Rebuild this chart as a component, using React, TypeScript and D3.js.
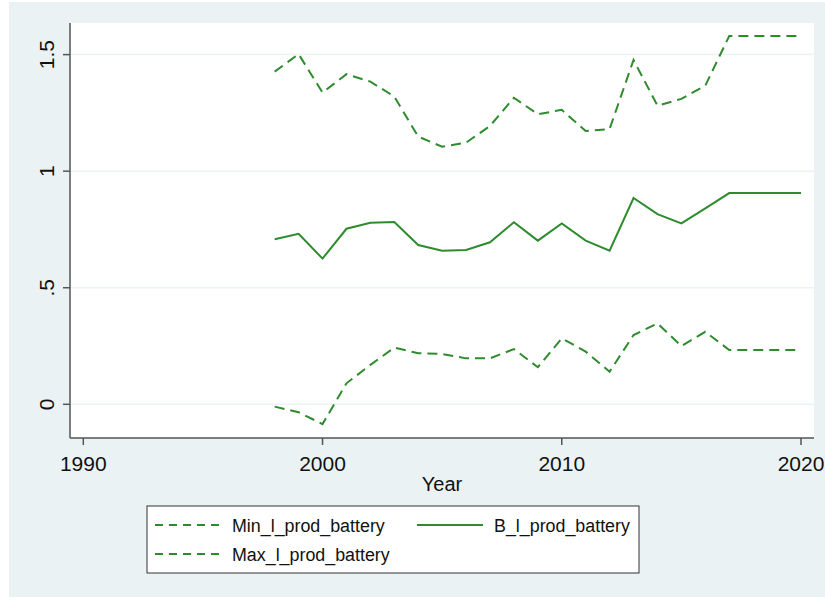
import React, { useRef, useEffect } from "react";
import * as d3 from "d3";

// Years and series
const years = [
  1998, 1999, 2000, 2001, 2002, 2003, 2004, 2005, 2006, 2007, 2008,
  2009, 2010, 2011, 2012, 2013, 2014, 2015, 2016, 2017, 2018, 2019, 2020,
];
const maxVals = [
  1.427, 1.502, 1.337, 1.416, 1.384, 1.32, 1.148, 1.105, 1.122, 1.194, 1.315,
  1.244, 1.263, 1.172, 1.181, 1.477, 1.281, 1.31, 1.367, 1.58, 1.58, 1.58, 1.58,
];
const bVals = [
  0.708, 0.731, 0.625, 0.753, 0.779, 0.782, 0.683, 0.659, 0.662, 0.695, 0.781,
  0.702, 0.776, 0.702, 0.659, 0.885, 0.816, 0.776, 0.84, 0.906, 0.906, 0.906, 0.906,
];
const minVals = [
  -0.01, -0.034, -0.085, 0.09, 0.169, 0.243, 0.219, 0.216, 0.197, 0.197, 0.237,
  0.159, 0.283, 0.226, 0.14, 0.297, 0.347, 0.25, 0.311, 0.233, 0.233, 0.233, 0.233,
];
const xTicks = [1990, 2000, 2010, 2020];
const yTicks = [0, 0.5, 1, 1.5];
const yTickLabels = ["0", ".5", "1", "1.5"];

const W = 825;
const H = 597;
const GREEN = "#2e8b2e";
const FONT = "'Liberation Sans', Arial, sans-serif";

export default function App() {
  const svgRef = useRef<SVGSVGElement>(null);

  useEffect(() => {
    const svg = d3.select(svgRef.current);
    svg.selectAll("*").remove();

    const plot = { left: 70, right: 814, top: 23, bottom: 438 };

    const x = d3.scaleLinear().domain([1990, 2020]).range([83.3, 801]);
    const y = d3.scaleLinear().domain([0, 1.5]).range([404.3, 54.6]);

    // outer background + plot region
    svg.append("rect").attr("x", 9).attr("y", 2).attr("width", W - 9).attr("height", H - 2).attr("fill", "#eaf2f3");
    svg.append("rect")
      .attr("x", plot.left).attr("y", plot.top)
      .attr("width", plot.right - plot.left).attr("height", plot.bottom - plot.top)
      .attr("fill", "#ffffff");

    // grid
    svg.append("g").selectAll("line").data(yTicks).join("line")
      .attr("x1", plot.left).attr("x2", plot.right)
      .attr("y1", (d) => y(d)).attr("y2", (d) => y(d))
      .attr("stroke", "#eaf2f3").attr("stroke-width", 1.5);

    // y axis
    const yAxis = svg.append("g").attr("transform", `translate(${plot.left},0)`);
    yAxis.append("line").attr("y1", plot.top).attr("y2", plot.bottom).attr("stroke", "#555").attr("stroke-width", 1.5);
    yAxis.selectAll("line.tk").data(yTicks).join("line").attr("class", "tk")
      .attr("x1", -7).attr("x2", 0).attr("y1", (d) => y(d)).attr("y2", (d) => y(d))
      .attr("stroke", "#555").attr("stroke-width", 1.5);
    yAxis.selectAll("text").data(yTicks).join("text")
      .attr("transform", (d) => `translate(-16,${y(d)}) rotate(-90)`)
      .attr("text-anchor", "middle")
      .attr("font-family", FONT).attr("font-size", 21).attr("fill", "#111")
      .text((d, i) => yTickLabels[i]);

    // x axis
    const xAxis = svg.append("g").attr("transform", `translate(0,${plot.bottom})`);
    xAxis.append("line").attr("x1", plot.left).attr("x2", plot.right).attr("stroke", "#555").attr("stroke-width", 1.5);
    xAxis.selectAll("line.tk").data(xTicks).join("line").attr("class", "tk")
      .attr("x1", (d) => x(d)).attr("x2", (d) => x(d)).attr("y1", 0).attr("y2", 7)
      .attr("stroke", "#555").attr("stroke-width", 1.5);
    xAxis.selectAll("text").data(xTicks).join("text")
      .attr("x", (d) => x(d)).attr("y", 33)
      .attr("text-anchor", "middle")
      .attr("font-family", FONT).attr("font-size", 21).attr("fill", "#111")
      .text((d) => String(d));

    svg.append("text")
      .attr("x", (plot.left + plot.right) / 2).attr("y", 491)
      .attr("text-anchor", "middle")
      .attr("font-family", FONT).attr("font-size", 20).attr("fill", "#111")
      .text("Year");

    // series
    const line = d3.line<number>().x((d, i) => x(years[i])).y((d) => y(d));
    const series = [
      { vals: minVals, dash: "10,6" },
      { vals: bVals, dash: null },
      { vals: maxVals, dash: "10,6" },
    ];
    series.forEach((s) => {
      svg.append("path")
        .datum(s.vals)
        .attr("d", line)
        .attr("fill", "none")
        .attr("stroke", GREEN)
        .attr("stroke-width", 2)
        .attr("stroke-dasharray", s.dash);
    });

    // legend
    const lg = svg.append("g");
    lg.append("rect").attr("x", 147).attr("y", 506).attr("width", 492).attr("height", 67)
      .attr("fill", "#fff").attr("stroke", "#333").attr("stroke-width", 1);
    const items = [
      { label: "Min_l_prod_battery", x0: 155, cy: 525, dash: "8,6" },
      { label: "B_l_prod_battery", x0: 417, cy: 525, dash: null },
      { label: "Max_l_prod_battery", x0: 155, cy: 554, dash: "8,6" },
    ];
    items.forEach((it) => {
      lg.append("line")
        .attr("x1", it.x0).attr("x2", it.x0 + 66).attr("y1", it.cy).attr("y2", it.cy)
        .attr("stroke", GREEN).attr("stroke-width", 2).attr("stroke-dasharray", it.dash);
      lg.append("text")
        .attr("x", it.x0 + 77).attr("y", it.cy + 7)
        .attr("font-family", FONT).attr("font-size", 19).attr("fill", "#111")
        .attr("transform", `translate(${it.x0 + 77},0) scale(0.94,1) translate(${-(it.x0 + 77)},0)`)
        .text(it.label);
    });
  }, []);

  return (
    <svg
      ref={svgRef}
      width={W}
      height={H}
      style={{ position: "absolute", left: 0, top: 0 }}
    />
  );
}
